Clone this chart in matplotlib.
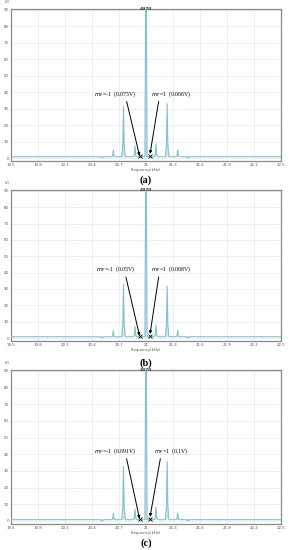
import matplotlib
matplotlib.use("Agg")
import matplotlib.pyplot as plt
import numpy as np

# ---------------- data ----------------
panel_labels = ["(a)", "(b)", "(c)"]
x_ticks = [19.5, 19.8, 20.1, 20.4, 20.7, 21.0, 21.3, 21.6, 21.9, 22.2, 22.5]
x_tick_labels = ["19.5", "19.8", "20.1", "20.4", "20.7", "21", "21.3", "21.6", "21.9", "22.2", "22.5"]
y_ticks = [0, 10, 20, 30, 40, 50, 60, 70, 80, 90]

# peak positions (kHz) and heights for each panel
peak_freqs = [20.51, 20.637, 20.75, 20.878, 21.0, 21.111, 21.235, 21.352, 21.47]
peaks_a = [0.8, 4.9, 31.2, 7.4, 95.0, 8.5, 33.0, 4.9, 1.0]
peaks_b = [0.8, 4.5, 33.0, 7.0, 95.0, 8.0, 31.7, 4.6, 1.0]
peaks_c = [0.8, 4.7, 32.6, 7.2, 95.0, 8.3, 35.6, 4.8, 1.0]
panel_peaks = [peaks_a, peaks_b, peaks_c]
baseline = 0.8

left_notes = ["$m_F$=-1  (0.075V)", "$m_F$=-1  (0.05V)", "$m_F$=-1  (0.091V)"]
right_notes = ["$m_F$=1  (0.066V)", "$m_F$=1  (0.008V)", "$m_F$=1  (0.1V)"]
marker_freqs = [20.928, 21.045]
peak_tag = "4970"
note_y = [36, 39, 39]

# ---------------- layout ----------------
fig = plt.figure(figsize=(2.9, 5.5), dpi=100)
boxes = [
    (11 / 290, 1 - 161 / 550, 270 / 290, 152 / 550),
    (11 / 290, 1 - 341 / 550, 270 / 290, 151 / 550),
    (11 / 290, 1 - 524 / 550, 270 / 290, 154 / 550),
]
label_y = [1 - 180 / 550, 1 - 363 / 550, 1 - 543 / 550]
xlabel_y = [1 - 170 / 550, 1 - 350 / 550, 1 - 533 / 550]

line_col = "#86c1cf"

for i, box in enumerate(boxes):
    ax = fig.add_axes(box)
    heights = panel_peaks[i]
    xs = [19.5]
    ys = [baseline]
    for f, h in zip(peak_freqs, heights):
        if h > 50:
            xs += [f - 0.012, f - 0.004, f + 0.004, f + 0.012]
            ys += [baseline, h, h, baseline]
        else:
            xs += [f - 0.02, f - 0.008, f, f + 0.008, f + 0.02]
            ys += [baseline, h * 0.25, h, h * 0.25, baseline]
    xs.append(22.5)
    ys.append(baseline)
    ax.fill(xs, ys, color="#cfe6ec", lw=0, zorder=2)
    ax.plot(xs, ys, color=line_col, lw=0.8, zorder=3)
    ax.set_xlim(19.5, 22.5)
    ax.set_ylim(-1.8, 90.5)
    ax.set_xticks(x_ticks)
    ax.set_xticklabels(x_tick_labels)
    ax.set_yticks(y_ticks)
    ax.tick_params(labelsize=2.8, length=0, pad=1.5, colors="#555555")
    ax.grid(True, color="#e3ecef", lw=0.5)
    ax.set_axisbelow(True)
    for s in ax.spines.values():
        s.set_color("#8a8a8a")
        s.set_linewidth(0.9)

    # annotations
    ax.annotate(left_notes[i], xy=(marker_freqs[0], 1.4), xytext=(20.66, note_y[i]),
                fontsize=4.2, family="Liberation Serif", ha="center", va="bottom",
                arrowprops=dict(arrowstyle="-|>", color="black", lw=0.7,
                                mutation_scale=4, shrinkA=0, shrinkB=0,
                                relpos=(0.75, 0.0)))
    ax.annotate(right_notes[i], xy=(marker_freqs[1], 2.5), xytext=(21.28, note_y[i]),
                fontsize=4.2, family="Liberation Serif", ha="center", va="bottom",
                arrowprops=dict(arrowstyle="-|>", color="black", lw=0.7,
                                mutation_scale=4, shrinkA=0, shrinkB=0,
                                relpos=(0.2, 0.0)))
    ax.plot(marker_freqs, [1.2, 1.2], linestyle="none", marker="x",
            color="black", ms=2.2, mew=0.6, zorder=4)
    ax.text(21.0, 90.3, peak_tag, fontsize=3.2, ha="center", va="center",
            color="#333333", fontweight="bold", zorder=5)
    ax.text(-0.012, 1.03, "(V)", transform=ax.transAxes, fontsize=2.6,
            ha="center", va="bottom", color="#555555")

    fig.text(146 / 290, xlabel_y[i], "Frequency(kHz)", fontsize=2.8,
             ha="center", va="center", color="#555555")
    fig.text(146 / 290, label_y[i], panel_labels[i], fontsize=7.5,
             family="Liberation Serif", fontweight="bold", ha="center", va="center")

fig.savefig("out.png", dpi=100, facecolor="white")
